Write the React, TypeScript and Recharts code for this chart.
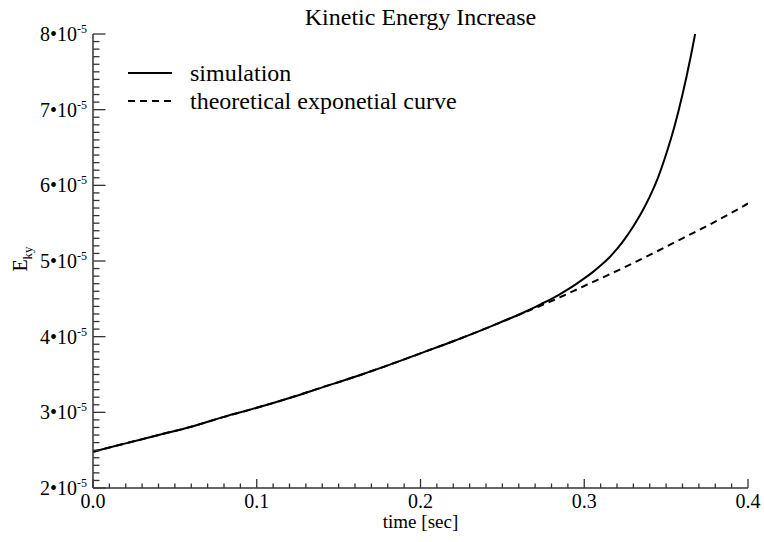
import React from 'react';
import { LineChart, Line, XAxis, YAxis, Legend } from 'recharts';

const FONT = '"Liberation Serif", "Times New Roman", Times, serif';
const INK = '#000';
const FRAME = '#333';

// time [sec]
const simulationTimes = [
  0, 0.02, 0.04, 0.06, 0.08, 0.1, 0.12, 0.14, 0.16, 0.18, 0.2, 0.22, 0.24, 0.25, 0.255, 0.26,
  0.265, 0.27, 0.275, 0.28, 0.285, 0.29, 0.295, 0.3, 0.305, 0.31, 0.315, 0.32, 0.325, 0.33,
  0.335, 0.34, 0.345, 0.35, 0.355, 0.36, 0.365, 0.37, 0.375,
];
// E_ky in units of 10^-5
const simulationValues = [
  2.48, 2.59, 2.7, 2.81, 2.94, 3.06, 3.19, 3.33, 3.47, 3.62, 3.78, 3.94, 4.11, 4.2, 4.245, 4.29,
  4.34, 4.39, 4.445, 4.5, 4.56, 4.625, 4.695, 4.77, 4.85, 4.94, 5.04, 5.16, 5.3, 5.46,
  5.64, 5.85, 6.1, 6.41, 6.77, 7.2, 7.7, 8.27, 8.91,
];

const theoryTimes = [
  0, 0.02, 0.04, 0.06, 0.08, 0.1, 0.12, 0.14, 0.16, 0.18, 0.2, 0.22, 0.24, 0.26, 0.28, 0.3,
  0.32, 0.34, 0.36, 0.38, 0.4,
];
const theoryValues = [
  2.48, 2.59, 2.7, 2.81, 2.94, 3.06, 3.19, 3.33, 3.47, 3.62, 3.78, 3.94, 4.11, 4.29, 4.47, 4.67,
  4.87, 5.08, 5.3, 5.52, 5.76,
];

const seriesNames = ['simulation', 'theoretical exponetial curve'];
const seriesDash = [undefined, '7 5'];

const xMajorTicks = [0, 0.1, 0.2, 0.3, 0.4];
const xTickLabels = ['0.0', '0.1', '0.2', '0.3', '0.4'];
const yMajorTicks = [2, 3, 4, 5, 6, 7, 8];
const yTickLabels = ['2', '3', '4', '5', '6', '7', '8'];
const yExponent = '-5';

const titleText = 'Kinetic Energy Increase';
const xLabelText = 'time [sec]';
const yLabelMain = 'E';
const yLabelSub = 'ky';

// minor tick positions (10 minor intervals per major)
const xAllTicks = Array.from({ length: 41 }, (_, i) => i / 100);
const yAllTicks = Array.from({ length: 61 }, (_, i) => (20 + i) / 10);

const simData = simulationTimes.map((t, i) => ({ t, e: simulationValues[i] }));
const theoryData = theoryTimes.map((t, i) => ({ t, e: theoryValues[i] }));

const findMajor = (arr: number[], v: number) => arr.findIndex((m) => Math.abs(m - v) < 1e-9);

const X_MAJOR = 9;
const X_MINOR = 4.5;
const Y_MAJOR = 12.5;
const Y_MINOR = 6.5;

const textStyle = { fontFamily: FONT };

const BottomTick = (props: any) => {
  const { x, y, payload } = props;
  const idx = findMajor(xMajorTicks, payload.value);
  const major = idx >= 0;
  return (
    <g>
      <line x1={x} y1={y} x2={x} y2={y - (major ? X_MAJOR : X_MINOR)} stroke={FRAME} strokeWidth={1.3} />
      {major && (
        <text x={x} y={y + 20} textAnchor="middle" fontSize={20} style={textStyle} fill={INK}>
          {xTickLabels[idx]}
        </text>
      )}
    </g>
  );
};

const TopTick = (props: any) => {
  const { x, y, payload } = props;
  const major = findMajor(xMajorTicks, payload.value) >= 0;
  return <line x1={x} y1={y} x2={x} y2={y + (major ? X_MAJOR : X_MINOR)} stroke={FRAME} strokeWidth={1.3} />;
};

const LeftTick = (props: any) => {
  const { x, y, payload } = props;
  const idx = findMajor(yMajorTicks, payload.value);
  const major = idx >= 0;
  return (
    <g>
      <line x1={x} y1={y} x2={x + (major ? Y_MAJOR : Y_MINOR)} y2={y} stroke={FRAME} strokeWidth={1.3} />
      {major && (
        <text x={x - 6} y={y + 7} textAnchor="end" fontSize={20} style={textStyle} fill={INK}>
          {yTickLabels[idx]}•10
          <tspan fontSize={12} dy={-8}>{yExponent}</tspan>
        </text>
      )}
    </g>
  );
};

const RightTick = (props: any) => {
  const { x, y, payload } = props;
  const major = findMajor(yMajorTicks, payload.value) >= 0;
  return <line x1={x} y1={y} x2={x - (major ? Y_MAJOR : Y_MINOR)} y2={y} stroke={FRAME} strokeWidth={1.3} />;
};

const YLabel = (props: any) => {
  const vb = props.viewBox || { x: 0, y: 34, width: 93, height: 454 };
  const cx = vb.x + 27;
  const cy = vb.y + vb.height / 2 - 2;
  return (
    <text
      x={cx}
      y={cy}
      transform={`rotate(-90, ${cx}, ${cy})`}
      textAnchor="middle"
      fontSize={20}
      style={textStyle}
      fill={INK}
    >
      {yLabelMain}
      <tspan fontSize={13} dy={5}>{yLabelSub}</tspan>
    </text>
  );
};

const XLabel = (props: any) => {
  const vb = props.viewBox || { x: 93, y: 488, width: 655, height: 54 };
  return (
    <text x={vb.x + vb.width / 2} y={vb.y + 40} textAnchor="middle" fontSize={19} style={textStyle} fill={INK}>
      {xLabelText}
    </text>
  );
};

const renderLegend = (props: any) => {
  const items = props.payload || [];
  return (
    <svg width={764} height={130} style={{ display: 'block' }}>
      {items.map((entry: any, i: number) => {
        const ly = 73 + i * 28;
        const k = seriesNames.indexOf(entry.value);
        const dash = k >= 0 ? seriesDash[k] : undefined;
        return (
          <g key={i}>
            <line x1={128} x2={172} y1={ly} y2={ly} stroke={INK} strokeWidth={2} strokeDasharray={dash} />
            <text x={190} y={ly + 8} fontSize={24} style={textStyle} fill={INK}>
              {entry.value}
            </text>
          </g>
        );
      })}
    </svg>
  );
};

export default function App() {
  return (
    <div style={{ position: 'absolute', left: 0, top: 0, width: 764, height: 542, background: '#fff', fontFamily: FONT }}>
      <LineChart width={764} height={542} margin={{ top: 34, right: 16, bottom: 0, left: 0 }} style={{ fontFamily: FONT }}>
        <XAxis
          xAxisId="bottom"
          type="number"
          dataKey="t"
          domain={[0, 0.4]}
          allowDataOverflow
          ticks={xAllTicks}
          interval={0}
          tickSize={0}
          tickMargin={0}
          tickLine={false}
          tick={<BottomTick />}
          height={54}
          axisLine={{ stroke: FRAME, strokeWidth: 1.5 }}
          label={<XLabel />}
        />
        <XAxis
          xAxisId="top"
          orientation="top"
          type="number"
          dataKey="t"
          domain={[0, 0.4]}
          allowDataOverflow
          ticks={xAllTicks}
          interval={0}
          tickSize={0}
          tickMargin={0}
          tickLine={false}
          tick={<TopTick />}
          height={0}
          axisLine={{ stroke: FRAME, strokeWidth: 1.5 }}
        />
        <YAxis
          yAxisId="left"
          type="number"
          domain={[2, 8]}
          allowDataOverflow
          ticks={yAllTicks}
          interval={0}
          tickSize={0}
          tickMargin={0}
          tickLine={false}
          tick={<LeftTick />}
          width={93}
          axisLine={{ stroke: FRAME, strokeWidth: 1.5 }}
          label={<YLabel />}
        />
        <YAxis
          yAxisId="right"
          orientation="right"
          type="number"
          domain={[2, 8]}
          allowDataOverflow
          ticks={yAllTicks}
          interval={0}
          tickSize={0}
          tickMargin={0}
          tickLine={false}
          tick={<RightTick />}
          width={0}
          axisLine={{ stroke: FRAME, strokeWidth: 1.5 }}
        />
        <Legend
          layout="vertical"
          align="center"
          verticalAlign="middle"
          content={renderLegend}
          wrapperStyle={{ left: 0, top: 0, width: 764, height: 130, lineHeight: 0 }}
        />
        <Line
          xAxisId="bottom"
          yAxisId="left"
          data={simData}
          dataKey="e"
          name={seriesNames[0]}
          type="monotone"
          stroke={INK}
          strokeWidth={2}
          dot={false}
          activeDot={false}
          isAnimationActive={false}
        />
        <Line
          xAxisId="bottom"
          yAxisId="left"
          data={theoryData}
          dataKey="e"
          name={seriesNames[1]}
          type="monotone"
          stroke={INK}
          strokeWidth={2}
          strokeDasharray={seriesDash[1]}
          dot={false}
          activeDot={false}
          isAnimationActive={false}
        />
      </LineChart>
      <svg
        width={764}
        height={34}
        style={{ position: 'absolute', left: 0, top: 0, pointerEvents: 'none', display: 'block' }}
      >
        <text x={420.5} y={25} textAnchor="middle" fontSize={24} style={textStyle} fill={INK}>
          {titleText}
        </text>
      </svg>
    </div>
  );
}
